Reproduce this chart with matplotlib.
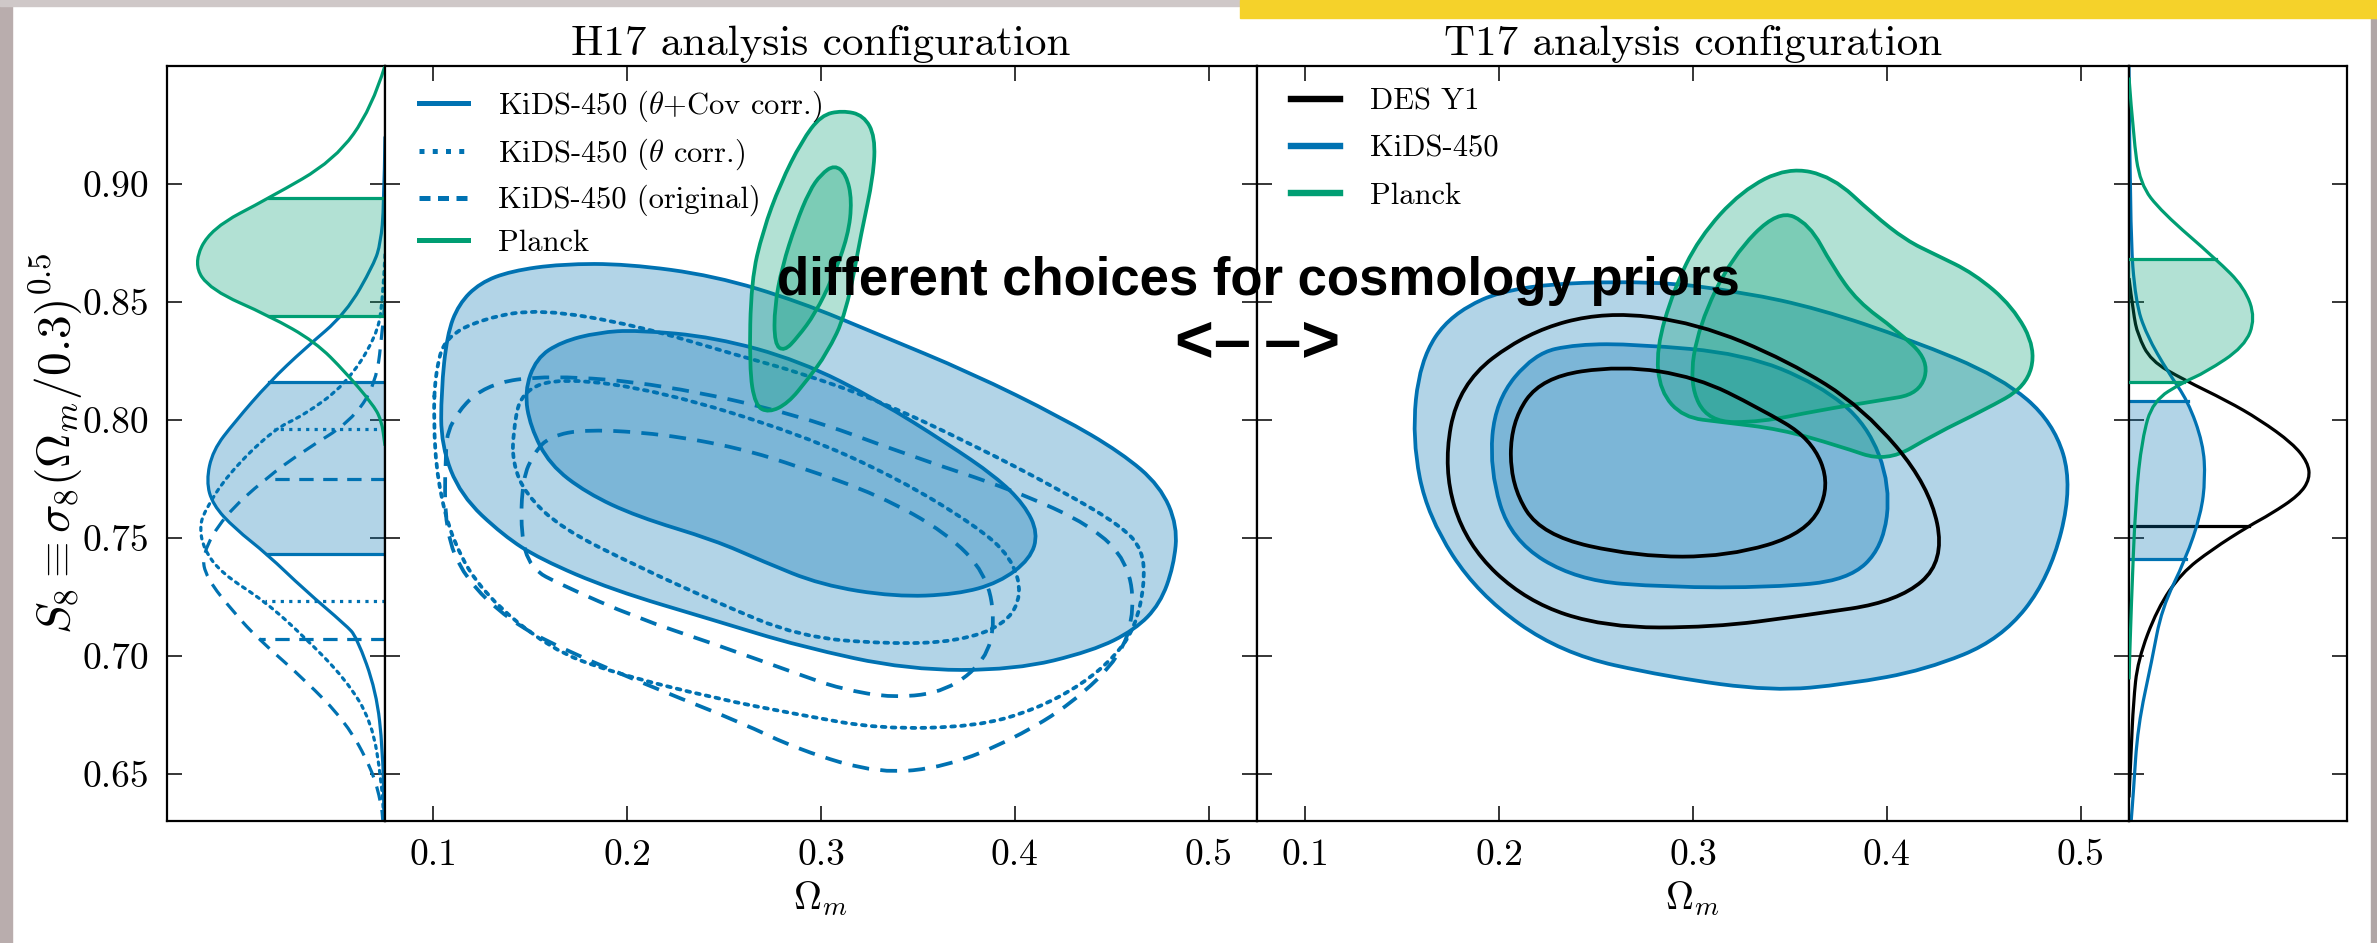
import matplotlib
matplotlib.use('Agg')
import matplotlib.pyplot as plt
import numpy as np
from matplotlib.lines import Line2D
from matplotlib.patches import Rectangle, PathPatch
from matplotlib.path import Path
from matplotlib.ticker import FixedLocator, FormatStrFormatter

plt.rcParams['font.family'] = ['cmr10', 'DejaVu Serif']
plt.rcParams['mathtext.fontset'] = 'cm'
plt.rcParams['axes.unicode_minus'] = False

blue = '#0072B2'
green = '#009E73'

y_ticks = [0.65, 0.70, 0.75, 0.80, 0.85, 0.90]
x_ticks = [0.1, 0.2, 0.3, 0.4, 0.5]

# ---------------- H17 panel contours (Omega_m, S8) ----------------
h17_kids_out_om = [0.104, 0.107, 0.113, 0.124, 0.140, 0.166, 0.200, 0.245, 0.289, 0.330, 0.377, 0.424, 0.455,
                   0.475, 0.484, 0.482, 0.475, 0.462, 0.440, 0.400, 0.345, 0.289, 0.245, 0.192, 0.155, 0.136,
                   0.114, 0.104]
h17_kids_out_s8 = [0.812, 0.836, 0.849, 0.858, 0.863, 0.866, 0.866, 0.861, 0.850, 0.836, 0.820, 0.801, 0.786,
                   0.772, 0.755, 0.738, 0.722, 0.711, 0.702, 0.694, 0.694, 0.704, 0.715, 0.728, 0.741, 0.751,
                   0.768, 0.789]
h17_kids_in_om = [0.147, 0.153, 0.166, 0.185, 0.205, 0.245, 0.289, 0.330, 0.365, 0.390, 0.405, 0.412, 0.408,
                  0.392, 0.370, 0.338, 0.300, 0.270, 0.245, 0.205, 0.179, 0.160, 0.150]
h17_kids_in_s8 = [0.812, 0.826, 0.833, 0.837, 0.838, 0.835, 0.825, 0.808, 0.790, 0.776, 0.764, 0.752, 0.741,
                  0.731, 0.726, 0.725, 0.730, 0.740, 0.749, 0.759, 0.769, 0.781, 0.797]

h17_theta_out_om = [0.101, 0.106, 0.126, 0.155, 0.205, 0.258, 0.289, 0.330, 0.377, 0.424, 0.455, 0.466, 0.467,
                    0.462, 0.452, 0.435, 0.410, 0.380, 0.330, 0.289, 0.245, 0.192, 0.160, 0.126, 0.110, 0.102,
                    0.100]
h17_theta_out_s8 = [0.820, 0.835, 0.843, 0.847, 0.840, 0.827, 0.820, 0.808, 0.790, 0.770, 0.755, 0.745, 0.730,
                    0.712, 0.700, 0.688, 0.677, 0.670, 0.669, 0.675, 0.682, 0.693, 0.703, 0.726, 0.748, 0.774,
                    0.800]
h17_theta_in_om = [0.141, 0.145, 0.166, 0.218, 0.289, 0.340, 0.380, 0.398, 0.404, 0.395, 0.370, 0.335, 0.289,
                   0.245, 0.205, 0.166, 0.147, 0.141]
h17_theta_in_s8 = [0.794, 0.812, 0.818, 0.812, 0.794, 0.775, 0.755, 0.742, 0.726, 0.713, 0.706, 0.705, 0.708,
                   0.723, 0.738, 0.754, 0.769, 0.782]

h17_orig_out_om = [0.106, 0.108, 0.126, 0.160, 0.218, 0.289, 0.345, 0.400, 0.440, 0.458, 0.462, 0.455, 0.430,
                   0.400, 0.365, 0.330, 0.289, 0.258, 0.218, 0.166, 0.139, 0.116, 0.106]
h17_orig_out_s8 = [0.784, 0.799, 0.815, 0.819, 0.815, 0.802, 0.785, 0.770, 0.755, 0.740, 0.720, 0.700, 0.680,
                   0.665, 0.653, 0.650, 0.660, 0.672, 0.685, 0.703, 0.715, 0.733, 0.753]
h17_orig_in_om = [0.146, 0.152, 0.160, 0.179, 0.218, 0.258, 0.289, 0.330, 0.365, 0.385, 0.390, 0.385, 0.365,
                  0.338, 0.310, 0.289, 0.245, 0.205, 0.166, 0.150, 0.145]
h17_orig_in_s8 = [0.775, 0.786, 0.793, 0.796, 0.794, 0.788, 0.780, 0.768, 0.752, 0.735, 0.715, 0.698, 0.685,
                  0.682, 0.686, 0.692, 0.705, 0.716, 0.730, 0.737, 0.752]

h17_planck_out_om = [0.300, 0.311, 0.322, 0.328, 0.327, 0.321, 0.313, 0.303, 0.293, 0.283, 0.273, 0.266, 0.263,
                     0.264, 0.270, 0.279, 0.290]
h17_planck_out_s8 = [0.929, 0.931, 0.929, 0.920, 0.903, 0.880, 0.845, 0.828, 0.817, 0.807, 0.803, 0.806, 0.822,
                     0.859, 0.880, 0.900, 0.918]
h17_planck_in_om = [0.300, 0.307, 0.313, 0.316, 0.314, 0.306, 0.297, 0.288, 0.281, 0.276, 0.276, 0.280, 0.287,
                    0.294]
h17_planck_in_s8 = [0.904, 0.908, 0.904, 0.893, 0.878, 0.860, 0.845, 0.835, 0.829, 0.832, 0.848, 0.865, 0.883,
                    0.897]

# ---------------- T17 panel contours ----------------
t17_kids_out_om = [0.279, 0.326, 0.365, 0.412, 0.459, 0.486, 0.496, 0.484, 0.459, 0.420, 0.380, 0.341, 0.287,
                   0.232, 0.189, 0.163, 0.155, 0.159, 0.175, 0.208]
t17_kids_out_s8 = [0.859, 0.854, 0.847, 0.834, 0.818, 0.799, 0.772, 0.733, 0.707, 0.694, 0.688, 0.685, 0.691,
                   0.701, 0.726, 0.759, 0.792, 0.825, 0.845, 0.857]
t17_kids_in_om = [0.240, 0.271, 0.326, 0.365, 0.390, 0.402, 0.398, 0.380, 0.341, 0.287, 0.240, 0.206, 0.195,
                  0.198, 0.218]
t17_kids_in_s8 = [0.832, 0.832, 0.828, 0.815, 0.798, 0.772, 0.746, 0.732, 0.729, 0.729, 0.732, 0.749, 0.779,
                  0.808, 0.828]
t17_des_out_om = [0.255, 0.302, 0.349, 0.388, 0.422, 0.430, 0.406, 0.357, 0.310, 0.255, 0.214, 0.183, 0.171,
                  0.179, 0.214]
t17_des_out_s8 = [0.846, 0.841, 0.825, 0.805, 0.772, 0.740, 0.723, 0.717, 0.712, 0.712, 0.723, 0.747, 0.779,
                  0.815, 0.837]
t17_des_in_om = [0.263, 0.302, 0.334, 0.361, 0.371, 0.359, 0.318, 0.271, 0.222, 0.206, 0.206, 0.222]
t17_des_in_s8 = [0.823, 0.818, 0.805, 0.792, 0.772, 0.752, 0.742, 0.742, 0.751, 0.772, 0.799, 0.818]
t17_planck_out_om = [0.349, 0.372, 0.393, 0.410, 0.425, 0.445, 0.465, 0.477, 0.472, 0.450, 0.425, 0.400, 0.375,
                     0.345, 0.315, 0.295, 0.283, 0.281, 0.290, 0.303, 0.325]
t17_planck_out_s8 = [0.907, 0.903, 0.887, 0.876, 0.870, 0.862, 0.848, 0.830, 0.814, 0.804, 0.794, 0.782, 0.789,
                     0.796, 0.799, 0.801, 0.812, 0.830, 0.855, 0.877, 0.897]
t17_planck_in_om = [0.344, 0.360, 0.372, 0.385, 0.405, 0.422, 0.417, 0.395, 0.365, 0.335, 0.308, 0.298, 0.303,
                    0.320]
t17_planck_in_s8 = [0.889, 0.883, 0.865, 0.850, 0.838, 0.825, 0.811, 0.808, 0.804, 0.799, 0.799, 0.815, 0.840,
                    0.869]

# ---------------- 1D marginals (S8, relative density) ----------------
left_planck_s8 = [0.950, 0.932, 0.910, 0.894, 0.881, 0.866, 0.855, 0.844, 0.833, 0.820, 0.807, 0.800, 0.789]
left_planck_d = [0.0, 0.06, 0.23, 0.53, 0.80, 0.88, 0.80, 0.53, 0.32, 0.18, 0.06, 0.016, 0.0]
left_planck_band = (0.844, 0.894)
left_kids_s8 = [0.920, 0.890, 0.875, 0.866, 0.845, 0.830, 0.816, 0.799, 0.787, 0.774, 0.764, 0.754, 0.743,
                0.728, 0.713, 0.708, 0.685, 0.660, 0.634]
left_kids_d = [0.0, 0.005, 0.02, 0.05, 0.18, 0.37, 0.53, 0.69, 0.79, 0.82, 0.79, 0.69, 0.54, 0.37, 0.18, 0.13,
               0.04, 0.01, 0.005]
left_kids_band = (0.743, 0.816)
left_theta_s8 = [0.870, 0.850, 0.835, 0.815, 0.802, 0.796, 0.777, 0.761, 0.754, 0.745, 0.735, 0.723, 0.708,
                 0.690, 0.672, 0.647, 0.630]
left_theta_d = [0.0, 0.01, 0.04, 0.18, 0.37, 0.51, 0.72, 0.83, 0.85, 0.83, 0.75, 0.55, 0.37, 0.18, 0.06, 0.016,
                0.005]
left_theta_band = (0.723, 0.796)
left_orig_s8 = [0.850, 0.840, 0.815, 0.799, 0.787, 0.775, 0.759, 0.743, 0.733, 0.718, 0.707, 0.690, 0.672,
                0.652, 0.637, 0.630]
left_orig_d = [0.0, 0.01, 0.04, 0.16, 0.37, 0.55, 0.74, 0.84, 0.82, 0.69, 0.58, 0.37, 0.18, 0.06, 0.016, 0.01]
left_orig_band = (0.707, 0.775)

right_planck_s8 = [0.945, 0.920, 0.900, 0.888, 0.868, 0.856, 0.843, 0.831, 0.820, 0.816, 0.808, 0.792, 0.766,
                   0.720, 0.690]
right_planck_d = [0.0, 0.02, 0.05, 0.15, 0.40, 0.53, 0.58, 0.53, 0.35, 0.25, 0.11, 0.06, 0.03, 0.01, 0.0]
right_planck_band = (0.816, 0.868)
right_kids_s8 = [0.950, 0.880, 0.850, 0.836, 0.820, 0.808, 0.790, 0.775, 0.760, 0.741, 0.720, 0.698, 0.670,
                 0.642, 0.630]
right_kids_d = [0.0, 0.005, 0.03, 0.08, 0.18, 0.27, 0.34, 0.35, 0.33, 0.26, 0.15, 0.105, 0.04, 0.02, 0.01]
right_kids_band = (0.741, 0.808)
right_des_s8 = [0.860, 0.845, 0.836, 0.825, 0.817, 0.808, 0.800, 0.790, 0.782, 0.775, 0.768, 0.760, 0.755,
                0.745, 0.735, 0.720, 0.698, 0.680, 0.660, 0.640]
right_des_d = [0.0, 0.02, 0.04, 0.10, 0.25, 0.45, 0.60, 0.75, 0.82, 0.83, 0.78, 0.65, 0.55, 0.38, 0.24, 0.13,
               0.04, 0.02, 0.01, 0.0]
right_des_band = (0.755,)

# ---------------- figure ----------------
W, H = 2377, 943
fig = plt.figure(figsize=(W / 100, H / 100), dpi=100)

# slide background bits around the white page
fig.add_artist(Rectangle((0, 0), 12 / W, 1, transform=fig.transFigure, color='#b9adad', zorder=-5))
fig.add_artist(Rectangle((0, 1 - 6 / H), 1240 / W, 6 / H, transform=fig.transFigure, color='#cfc8c8', zorder=-5))
fig.add_artist(Rectangle((1240 / W, 1 - 18 / H), 1, 18 / H, transform=fig.transFigure, color='#f5d22a', zorder=-4))
fig.add_artist(Rectangle((2371 / W, 0), 6 / W, 1 - 18 / H, transform=fig.transFigure, color='#b0a6a6', zorder=-5))

top_px, bot_px = 65.7, 821


def box(x0, x1):
    return [x0 / W, (H - bot_px) / H, (x1 - x0) / W, (bot_px - top_px) / H]


ax_l = fig.add_axes(box(167, 385))
ax_h = fig.add_axes(box(385, 1257))
ax_t = fig.add_axes(box(1257, 2129))
ax_r = fig.add_axes(box(2129, 2347))

for ax in (ax_l, ax_h, ax_t, ax_r):
    ax.set_ylim(0.63, 0.95)
    ax.yaxis.set_major_locator(FixedLocator(y_ticks))
    ax.yaxis.set_major_formatter(FormatStrFormatter('%.2f'))
    ax.tick_params(which='both', direction='in', length=10.8, width=1.1, labelsize=27, pad=13,
                   left=True, right=True, top=True, bottom=True, labelleft=False, labelbottom=False)
    for s in ax.spines.values():
        s.set_linewidth(1.6)

for ax in (ax_h, ax_t):
    ax.set_xlim(0.075, 0.525)
    ax.xaxis.set_major_locator(FixedLocator(x_ticks))
    ax.xaxis.set_major_formatter(FormatStrFormatter('%.1f'))
    ax.tick_params(labelbottom=True)
    ax.set_xlabel(r'$\Omega_m$', fontsize=28, labelpad=5)

for ax in (ax_l, ax_r):
    ax.tick_params(axis='x', top=False, bottom=False)
    ax.set_xticks([])
ax_l.set_xlim(1.0, 0.0)
ax_r.set_xlim(0.0, 1.0)
ax_l.tick_params(labelleft=True)
ax_l.set_ylabel(r'$S_8 \equiv \sigma_8(\Omega_m/0.3)^{0.5}$', fontsize=34, labelpad=-2)


def smooth(xs, ys, closed):
    # quadratic bezier through the midpoints of the read vertices
    p = np.column_stack([xs, ys]).astype(float)
    n = len(p)
    if closed:
        mids = (p + np.roll(p, -1, axis=0)) / 2
        verts = [mids[-1]]
        codes = [Path.MOVETO]
        for i in range(n):
            verts += [p[i], mids[i]]
            codes += [Path.CURVE3, Path.CURVE3]
        verts.append(mids[-1])
        codes.append(Path.CLOSEPOLY)
    else:
        verts = [p[0]]
        codes = [Path.MOVETO]
        for i in range(1, n - 1):
            verts += [p[i], (p[i] + p[i + 1]) / 2]
            codes += [Path.CURVE3, Path.CURVE3]
        verts.append(p[-1])
        codes.append(Path.LINETO)
    return verts, codes


def contour(ax, om, s8, color, ls='-', fill=True, lw=2.7, z=2):
    verts, codes = smooth(om, s8, True)
    path = Path(verts, codes)
    if fill:
        ax.add_patch(PathPatch(path, facecolor=color, alpha=0.3, lw=0, zorder=z))
    ax.add_patch(PathPatch(path, facecolor='none', edgecolor=color, ls=ls, lw=lw, zorder=z + 0.5,
                           capstyle='round' if ls == ':' else 'butt'))


dash = (0, (4.5, 3))

# H17 panel
contour(ax_h, h17_kids_out_om, h17_kids_out_s8, blue)
contour(ax_h, h17_kids_in_om, h17_kids_in_s8, blue)
contour(ax_h, h17_theta_out_om, h17_theta_out_s8, blue, ls=':', fill=False)
contour(ax_h, h17_theta_in_om, h17_theta_in_s8, blue, ls=':', fill=False)
contour(ax_h, h17_orig_out_om, h17_orig_out_s8, blue, ls=dash, fill=False)
contour(ax_h, h17_orig_in_om, h17_orig_in_s8, blue, ls=dash, fill=False)
contour(ax_h, h17_planck_out_om, h17_planck_out_s8, green, z=4)
contour(ax_h, h17_planck_in_om, h17_planck_in_s8, green, z=4)

# T17 panel
contour(ax_t, t17_kids_out_om, t17_kids_out_s8, blue)
contour(ax_t, t17_kids_in_om, t17_kids_in_s8, blue)
contour(ax_t, t17_planck_out_om, t17_planck_out_s8, green, z=4)
contour(ax_t, t17_planck_in_om, t17_planck_in_s8, green, z=4)
contour(ax_t, t17_des_out_om, t17_des_out_s8, 'k', fill=False, z=6)
contour(ax_t, t17_des_in_om, t17_des_in_s8, 'k', fill=False, z=6)


def marginal(ax, s8, d, band, color, ls='-', fill=True, z=2, lw=2.3):
    verts, codes = smooth(d, s8, False)
    if fill:
        fverts = [(0, s8[0])] + verts + [(0, s8[-1]), (0, s8[0])]
        fcodes = [Path.MOVETO, Path.LINETO] + codes[1:] + [Path.LINETO, Path.CLOSEPOLY]
        patch = PathPatch(Path(fverts, fcodes), facecolor=color, alpha=0.3, lw=0, zorder=z)
        ax.add_patch(patch)
        patch.set_clip_path(Rectangle((0, min(band)), 1, max(band) - min(band), transform=ax.transData))
    ax.add_patch(PathPatch(Path(verts, codes), facecolor='none', edgecolor=color, ls=ls, lw=lw,
                           zorder=z + 0.5, capstyle='round' if ls == ':' else 'butt'))
    for y in band:
        ax.plot([0, np.interp(y, s8[::-1], d[::-1])], [y, y], color=color, ls=ls, lw=lw, zorder=z + 0.5)


marginal(ax_l, left_planck_s8, left_planck_d, left_planck_band, green, z=4)
marginal(ax_l, left_kids_s8, left_kids_d, left_kids_band, blue)
marginal(ax_l, left_theta_s8, left_theta_d, left_theta_band, blue, ls=':', fill=False)
marginal(ax_l, left_orig_s8, left_orig_d, left_orig_band, blue, ls=dash, fill=False)

marginal(ax_r, right_des_s8, right_des_d, right_des_band, 'k', fill=False, z=1)
marginal(ax_r, right_kids_s8, right_kids_d, right_kids_band, blue)
marginal(ax_r, right_planck_s8, right_planck_d, right_planck_band, green, z=4)

# legends
h_handles = [Line2D([], [], color=blue, lw=3.6),
             Line2D([], [], color=blue, lw=3.6, ls=':'),
             Line2D([], [], color=blue, lw=3.6, ls=(0, (2.2, 1.5))),
             Line2D([], [], color=green, lw=3.6)]
h_labels = [r'KiDS-450 ($\theta$+Cov corr.)', r'KiDS-450 ($\theta$ corr.)', 'KiDS-450 (original)', 'Planck']
ax_h.legend(h_handles, h_labels, loc='upper left', bbox_to_anchor=(0.039, 0.97), frameon=False, fontsize=22,
            handlelength=1.6, handletextpad=1.0, labelspacing=0.42, borderpad=0, borderaxespad=0)

t_handles = [Line2D([], [], color='k', lw=4.6),
             Line2D([], [], color=blue, lw=4.6),
             Line2D([], [], color=green, lw=4.6)]
t_labels = ['DES Y1', 'KiDS-450', 'Planck']
ax_t.legend(t_handles, t_labels, loc='upper left', bbox_to_anchor=(0.039, 0.97), frameon=False, fontsize=22,
            handlelength=1.6, handletextpad=1.0, labelspacing=0.64, borderpad=0, borderaxespad=0)

ax_h.set_title('H17 analysis configuration', fontsize=31, pad=7.7)
ax_t.set_title('T17 analysis configuration', fontsize=31, pad=7.7)

# overlay annotation
fig.text(1258 / W, (H - 295) / H, 'different choices for cosmology priors', ha='center', va='baseline',
         fontsize=38, fontweight='bold', family=['Liberation Sans', 'DejaVu Sans'], zorder=20)
fig.text(1258 / W, (H - 362) / H, '<\u2013\u2009\u2013>', ha='center', va='baseline',
         fontsize=48, fontweight='bold', family=['Liberation Sans', 'DejaVu Sans'], zorder=20)

fig.savefig('out.png', dpi=100)
